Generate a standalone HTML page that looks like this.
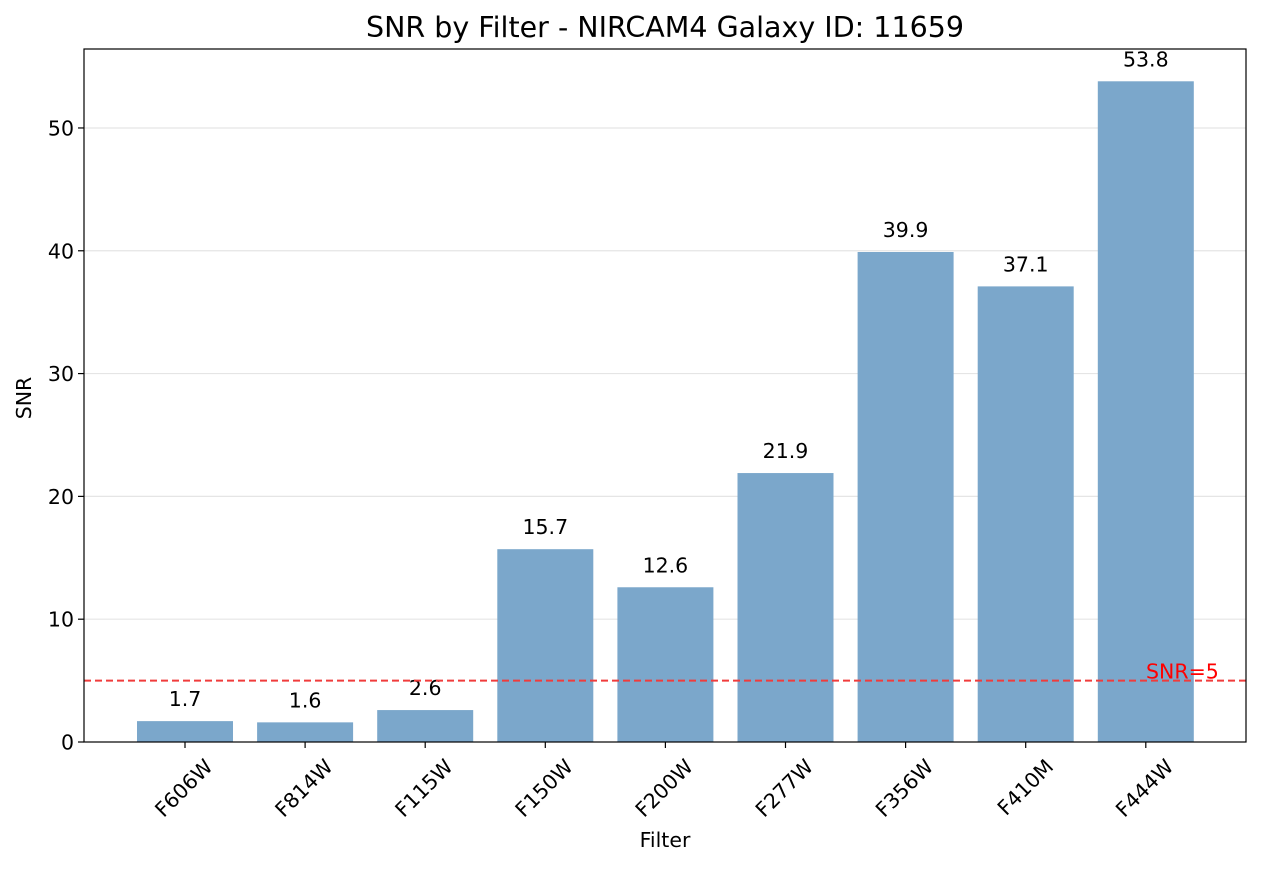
<!DOCTYPE html>
<html><head><meta charset="utf-8">
<style>
body{margin:0;background:#fff;font-family:"Liberation Sans","DejaVu Sans",sans-serif;}
svg text{font-family:"DejaVu Sans","Liberation Sans",sans-serif;}
</style></head>
<body>
<svg id="chart" width="1261" height="865" viewBox="0 0 1261 865" xmlns="http://www.w3.org/2000/svg">
<rect width="1261" height="865" fill="#fff"/>
<text x="665" y="37" font-size="28.5" text-anchor="middle" fill="#000">SNR by Filter - NIRCAM4 Galaxy ID: 11659</text>
<g id="grid"></g>
<g id="bars"></g>
<g id="axes"></g>
<text x="665" y="847" font-size="20.5" text-anchor="middle">Filter</text>
<text x="31" y="398" font-size="20.5" text-anchor="middle" transform="rotate(-90 31 398)">SNR</text>
</svg>
<script>
const categories = ["F606W","F814W","F115W","F150W","F200W","F277W","F356W","F410M","F444W"];
const snrValues = [1.7,1.6,2.6,15.7,12.6,21.9,39.9,37.1,53.8];
const yTicks = [0,10,20,30,40,50];
const threshold = 5;
const NS="http://www.w3.org/2000/svg";
const L=84,R=1246,T=49,B=742;
const yMax=56.43;
function y(v){return B-(v/yMax)*(B-T);}
function x(i){return 185+i*120.1;}
const bw=96;
const FS=20.5;
function mk(tag,attrs,parent){const e=document.createElementNS(NS,tag);for(const k in attrs)e.setAttribute(k,attrs[k]);parent.appendChild(e);return e;}
const grid=document.getElementById('grid'),bars=document.getElementById('bars'),axes=document.getElementById('axes');
yTicks.forEach(t=>{
  if(t>0){const g=mk('line',{x1:L,x2:R,y1:y(t),y2:y(t),stroke:'#e5e5e5','stroke-width':1.2},grid);
  
  }
  const tk=mk('line',{x1:L-6,x2:L,y1:y(t),y2:y(t),stroke:'#000','stroke-width':1.2},axes);
  
  
  const lb=mk('text',{x:L-10,y:y(t)+7.5,'font-size':FS,'text-anchor':'end'},axes);lb.textContent=t;
  
  
});
categories.forEach((c,i)=>{
  const v=snrValues[i];
  const r=mk('rect',{x:x(i)-bw/2,y:y(v),width:bw,height:B-y(v),fill:'#7ba7cb'},bars);
  
  
  const vl=mk('text',{x:x(i),y:y(v)-15,'font-size':FS,'text-anchor':'middle'},bars);vl.textContent=v.toFixed(1);
  
  
  const tk=mk('line',{x1:x(i),x2:x(i),y1:B,y2:B+6,stroke:'#000','stroke-width':1.2},axes);
  
  
  const lx=x(i)+24,ly=B+21;
  const lb=mk('text',{x:lx,y:ly,'font-size':FS,'text-anchor':'end',transform:`rotate(-45 ${lx} ${ly})`,'dominant-baseline':'central'},axes);lb.textContent=c;
  
  
});
const th=mk('line',{x1:L,x2:R,y1:y(threshold),y2:y(threshold),stroke:'#f03c3c','stroke-width':2,'stroke-dasharray':'7,4'},bars);


const tl=mk('text',{x:1146,y:y(threshold)-2,'font-size':FS,fill:'#ff0000'},bars);tl.textContent='SNR='+threshold;


const fr=mk('rect',{x:L,y:T,width:R-L,height:B-T,fill:'none',stroke:'#000','stroke-width':1.2},axes);


</script>
</body></html>
